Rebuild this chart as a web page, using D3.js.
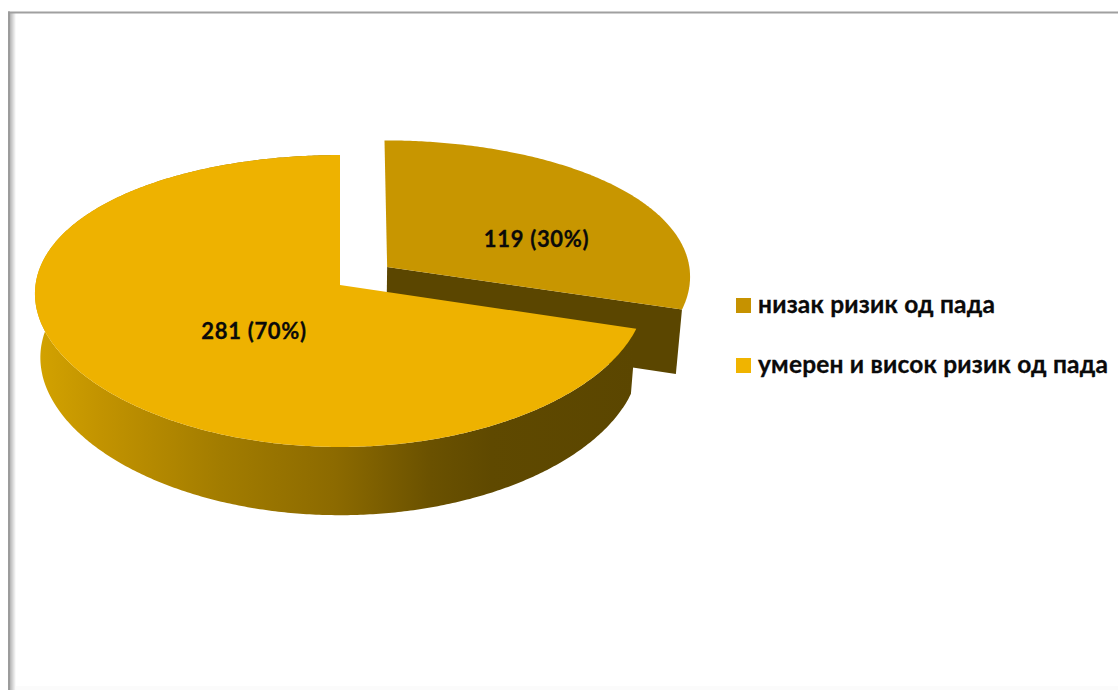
<!DOCTYPE html>
<html>
<head>
<meta charset="utf-8">
<script src="https://cdn.jsdelivr.net/npm/d3@7/dist/d3.min.js"></script>
<style>
html,body{margin:0;padding:0;background:#fff;overflow:hidden}
svg{display:block}
text{font-family:Lato,"Open Sans","Noto Sans",sans-serif;font-weight:700;fill:#0a0a0a;stroke:#0a0a0a;stroke-width:0.3px}
</style>
</head>
<body>
<svg id="chart" width="1118" height="690"></svg>
<script>
// Fall risk counts
const categories = ["низак ризик од пада", "умерен и висок ризик од пада"];
const counts = [119, 281];
const topColors = ["#C89600", "#EEB200"];
const legendColors = ["#C69200", "#F0B400"];
const wallDark = "#5B4600";

const W = 1118, H = 690;
const svg = d3.select("#chart");
const defs = svg.append("defs");

// Perspective camera for the tilted pie: unit disk in (X, Y), depth in Z
const cam = {cx: 340, cy: 285, kx: 304.5, ky: 144.2, px: 0.06, py: 0.1096, q: 0.018, depth: 64.9};
const explode = [[0.156, 0.1266], [0, 0]];

function project(X, Y, Z) {
  return [
    cam.cx + cam.kx * X / (1 + cam.px * Y + cam.q * Z),
    cam.cy + (-cam.ky * Y + cam.depth * Z) / (1 + cam.py * Y + cam.q * Z)
  ];
}
const rimPoint = (a, off, Z) => project(Math.sin(a) + off[0], Math.cos(a) + off[1], Z);
const hubPoint = (off, Z) => project(off[0], off[1], Z);

const outline = d3.line().curve(d3.curveLinear);
const arcAngles = (a0, a1) => {
  const n = Math.ceil(Math.abs(a1 - a0) / 0.01);
  return d3.range(n + 1).map(i => a0 + (a1 - a0) * i / n);
};

const slices = d3.pie().sort(null).value(d => d)(counts);
const total = d3.sum(counts);

// Side shading of the large slice runs from lit on the left to dark on the right
const sideFill = defs.append("linearGradient")
  .attr("id", "sideFill").attr("gradientUnits", "userSpaceOnUse")
  .attr("x1", 35).attr("x2", 636).attr("y1", 0).attr("y2", 0);
[[0, "#D3A300"], [0.11, "#C29300"], [0.31, "#A27C00"], [0.5, "#8C6A00"],
 [0.66, "#6A5100"], [0.76, "#5F4900"], [1, "#5B4600"]].forEach(([o, c]) =>
  sideFill.append("stop").attr("offset", o).attr("stop-color", c));

const shade = defs.append("linearGradient").attr("id", "frameShade");
shade.append("stop").attr("offset", 0).attr("stop-color", "#b4b4b4");
shade.append("stop").attr("offset", 1).attr("stop-color", "#ffffff");

// Chart frame
svg.append("rect").attr("width", W).attr("height", H).attr("fill", "#fff");
svg.append("rect").attr("x", 10).attr("y", 13).attr("width", 6).attr("height", H - 13).attr("fill", "url(#frameShade)");
svg.append("rect").attr("x", 16).attr("y", 686).attr("width", W - 16).attr("height", 4).attr("fill", "#fbfbfb");
svg.append("rect").attr("x", 8).attr("y", 11.5).attr("width", W - 8).attr("height", 2).attr("fill", "#a0a0a0");
svg.append("rect").attr("x", 8).attr("y", 11.5).attr("width", 2).attr("height", H - 11.5).attr("fill", "#9c9c9c");

// Slices are painted back to front: exploded slice first, then the large one
const pie = svg.append("g");
[0, 1].forEach(i => {
  const s = slices[i], off = explode[i];
  const angles = arcAngles(s.startAngle, s.endAngle);

  if (i === 0) {
    // The exploded slice only shows its cut face toward the viewer
    const a = s.endAngle;
    pie.append("path")
      .attr("d", outline([hubPoint(off, 0), rimPoint(a, off, 0), rimPoint(a, off, 1), hubPoint(off, 1)]) + "Z")
      .attr("fill", wallDark);
  } else {
    const wall = angles.map(a => rimPoint(a, off, 0))
      .concat(angles.slice().reverse().map(a => rimPoint(a, off, 1)));
    pie.append("path").attr("d", outline(wall) + "Z").attr("fill", "url(#sideFill)");
  }

  const top = [hubPoint(off, 0)].concat(angles.map(a => rimPoint(a, off, 0)));
  pie.append("path").attr("d", outline(top) + "Z").attr("fill", topColors[i]);
});

// Value labels
const labelPos = [[536.5, 247], [254, 339]];
svg.selectAll("text.value").data(counts).join("text")
  .attr("class", "value")
  .attr("x", (d, i) => labelPos[i][0])
  .attr("y", (d, i) => labelPos[i][1])
  .attr("text-anchor", "middle")
  .attr("font-size", 22)
  .attr("letter-spacing", 0.7)
  .text(d => `${d} (${Math.round(d / total * 100)}%)`);

// Legend
const legendY = d3.scalePoint().domain(categories).range([298, 358]);
const legend = svg.selectAll("g.legend").data(categories).join("g")
  .attr("class", "legend")
  .attr("transform", d => `translate(736,${legendY(d)})`);
legend.append("rect").attr("width", 15).attr("height", 15).attr("fill", (d, i) => legendColors[i]);
legend.append("text").attr("x", 22).attr("y", 15).attr("font-size", 24.5).attr("letter-spacing", 0.2).text(d => d);
</script>
</body>
</html>
